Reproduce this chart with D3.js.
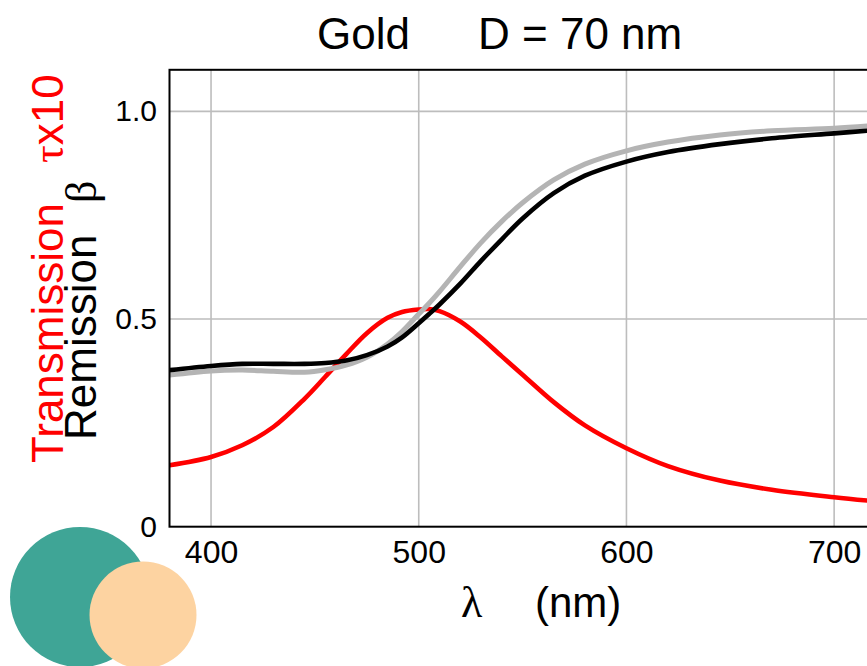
<!DOCTYPE html>
<html>
<head>
<meta charset="utf-8">
<script src="https://cdn.jsdelivr.net/npm/d3@7"></script>
<style>
  html, body { margin: 0; padding: 0; background: #fff; }
  svg { display: block; font-family: "Liberation Sans", Arial, sans-serif; }
</style>
</head>
<body>
<svg id="chart" width="867" height="666"></svg>
<script>
// ---- data ----
const lambda = [380, 400, 415, 430, 445, 455, 465, 475, 485, 492, 500, 505, 510, 520, 530, 540, 550, 565, 580, 600, 620, 645, 670, 700, 720];
const transmission = [0.148, 0.168, 0.196, 0.240, 0.308, 0.361, 0.415, 0.466, 0.503, 0.517, 0.523, 0.524, 0.519, 0.494, 0.455, 0.410, 0.366, 0.300, 0.244, 0.189, 0.146, 0.111, 0.089, 0.071, 0.061];
const remission = [0.377, 0.387, 0.392, 0.392, 0.392, 0.394, 0.400, 0.413, 0.434, 0.456, 0.490, 0.512, 0.535, 0.585, 0.640, 0.692, 0.742, 0.803, 0.845, 0.879, 0.902, 0.921, 0.935, 0.947, 0.955];
const remissionGrey = [0.365, 0.375, 0.377, 0.374, 0.372, 0.378, 0.389, 0.408, 0.440, 0.470, 0.512, 0.538, 0.566, 0.626, 0.684, 0.735, 0.780, 0.835, 0.873, 0.905, 0.926, 0.943, 0.953, 0.959, 0.966];
const xTicks = [400, 500, 600, 700];
const yTicks = [0, 0.5, 1.0];
const yTickLabels = ["0", "0.5", "1.0"];

(function () {
const svg = d3.select("#chart");
const mLeft = 169.5, mBottom = 526.7, mTop = 69.8;
const x = d3.scaleLinear().domain([380, 720]).range([mLeft, mLeft + 340 * 2.077]);
const y = d3.scaleLinear().domain([0, 1.1]).range([mBottom, mTop]);

svg.append("rect").attr("width", 867).attr("height", 666).attr("fill", "#fff");

// grid
const grid = svg.append("g");
grid.selectAll("line.v").data(xTicks).join("line")
  .attr("x1", d => x(d)).attr("x2", d => x(d))
  .attr("y1", mTop).attr("y2", mBottom)
  .attr("stroke", "#bdbdbd").attr("stroke-width", 1.6);
grid.selectAll("line.h").data(yTicks.filter(d => d > 0)).join("line")
  .attr("x1", mLeft).attr("x2", x(720))
  .attr("y1", d => y(d)).attr("y2", d => y(d))
  .attr("stroke", "#bdbdbd").attr("stroke-width", 1.6);

// axes tick labels via d3 axes
const xAxis = svg.append("g").attr("transform", `translate(0,${mBottom})`)
  .call(d3.axisBottom(x).tickValues(xTicks).tickSize(0).tickPadding(14).tickFormat(d3.format("d")));
xAxis.select(".domain").remove();
xAxis.selectAll("text").attr("font-size", 32).attr("fill", "#000")
  .attr("font-family", "Liberation Sans, Arial, sans-serif").attr("dy", "0.71em");

const yAxis = svg.append("g").attr("transform", `translate(${mLeft},0)`)
  .call(d3.axisLeft(y).tickValues(yTicks).tickSize(0).tickPadding(12.5)
    .tickFormat((d, i) => yTickLabels[i]));
yAxis.select(".domain").remove();
yAxis.selectAll("text").attr("font-size", 30).attr("fill", "#000")
  .attr("font-family", "Liberation Sans, Arial, sans-serif");

// curves
const pts = vals => lambda.map((l, i) => [l, vals[i]]);
const line = d3.line().x(d => x(d[0])).y(d => y(d[1])).curve(d3.curveCatmullRom.alpha(0.5));
svg.append("path").attr("d", line(pts(transmission)))
  .attr("fill", "none").attr("stroke", "#ff0000").attr("stroke-width", 4.6);
svg.append("path").attr("d", line(pts(remissionGrey)))
  .attr("fill", "none").attr("stroke", "#b4b4b4").attr("stroke-width", 5);
svg.append("path").attr("d", line(pts(remission)))
  .attr("fill", "none").attr("stroke", "#000").attr("stroke-width", 4.6);

// frame
svg.append("rect").attr("x", mLeft).attr("y", mTop)
  .attr("width", x(720) - mLeft).attr("height", mBottom - mTop)
  .attr("fill", "none").attr("stroke", "#000").attr("stroke-width", 2);

// title
const title = svg.append("text").attr("y", 49).attr("font-size", 44).attr("fill", "#000");
title.append("tspan").attr("x", 317).text("Gold");
title.append("tspan").attr("x", 478).text("D = 70 nm");

// x label
const xl = svg.append("text").attr("y", 617).attr("font-size", 42).attr("fill", "#000");
xl.append("tspan").attr("x", 461).attr("font-family", "Liberation Serif, serif").attr("font-size", 44).text("λ");
xl.append("tspan").attr("x", 535).text("(nm)");

// y labels (rotated)
const yl1 = svg.append("text").attr("transform", "translate(63,0) rotate(-90)")
  .attr("font-size", 44).attr("fill", "#ff0000");
yl1.append("tspan").attr("x", -463).text("Transmission");
yl1.append("tspan").attr("x", -163).attr("font-family", "Liberation Serif, serif").text("τ");
yl1.append("tspan").text("x10");

const yl2 = svg.append("text").attr("transform", "translate(96,0) rotate(-90)")
  .attr("font-size", 44).attr("fill", "#000");
yl2.append("tspan").attr("x", -440).text("Remission");
yl2.append("tspan").attr("x", -203).attr("font-family", "Liberation Serif, serif").text("β");

// decorative circles
svg.append("circle").attr("cx", 80).attr("cy", 597).attr("r", 70).attr("fill", "#3fa596");
svg.append("circle").attr("cx", 143).attr("cy", 615).attr("r", 53.5).attr("fill", "#fdd3a1");
})();
</script>
</body>
</html>
